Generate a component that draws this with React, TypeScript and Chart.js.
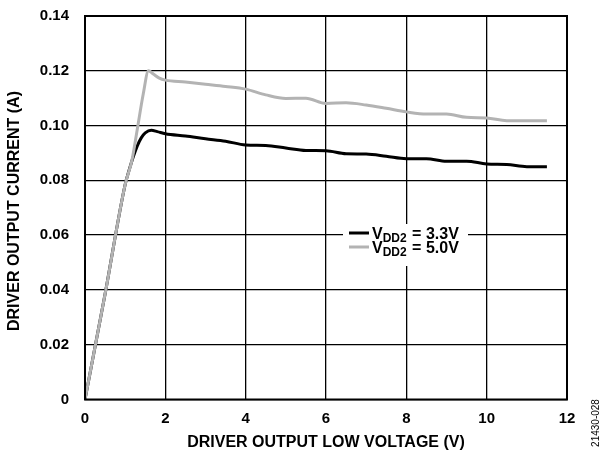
import React, { useEffect, useRef } from "react";
import { Chart, registerables } from "chart.js";

Chart.register(...registerables);

const vdd33X = [0, 0.5, 1.0, 1.1, 1.2, 1.3, 1.4, 1.5, 1.65, 1.8, 2.0, 2.5, 3.0, 3.5, 4.0, 4.5, 5.0, 5.5, 6.0, 6.5, 7.0, 7.5, 8.0, 8.5, 9.0, 9.5, 10.0, 10.5, 11.0, 11.5];
const vdd33Y = [0, 0.0385, 0.0785, 0.0838, 0.0885, 0.0925, 0.0955, 0.0973, 0.0983, 0.0978, 0.0970, 0.0962, 0.0952, 0.0943, 0.0929, 0.0927, 0.0918, 0.0909, 0.0908, 0.0897, 0.0896, 0.0888, 0.0879, 0.0879, 0.0870, 0.0870, 0.0860, 0.0858, 0.0850, 0.0850];

const vdd50X = [0, 0.5, 1.0, 1.17, 1.3, 1.45, 1.58, 1.7, 1.85, 2.0, 2.5, 3.0, 3.5, 4.0, 4.5, 5.0, 5.5, 6.0, 6.5, 7.0, 7.5, 8.0, 8.5, 9.0, 9.5, 10.0, 10.5, 11.0, 11.5];
const vdd50Y = [0, 0.0385, 0.0785, 0.0874, 0.0985, 0.1115, 0.1200, 0.1188, 0.1173, 0.1166, 0.1159, 0.1151, 0.1143, 0.1133, 0.1112, 0.1099, 0.1100, 0.1081, 0.1083, 0.1075, 0.1063, 0.1050, 0.1042, 0.1042, 0.1030, 0.1028, 0.1018, 0.1018, 0.1018];

const legendLabels = ["3.3V", "5.0V"];
const xTitle = "DRIVER OUTPUT LOW VOLTAGE (V)";
const yTitle = "DRIVER OUTPUT CURRENT (A)";
const sideNote = "21430-028";

const FONT = "'Liberation Sans', Arial, sans-serif";

const overlay = {
  id: "overlay",
  afterDatasetsDraw(chart: any) {
    const { ctx, chartArea } = chart;
    ctx.save();
    ctx.strokeStyle = "#000";
    ctx.lineWidth = 2;
    ctx.strokeRect(chartArea.left, chartArea.top, chartArea.right - chartArea.left, chartArea.bottom - chartArea.top);
    ctx.fillStyle = "#fff";
    ctx.fillRect(343, 224, 125, 42);
    const rows = [
      { color: "#000", label: legendLabels[0], y: 233 },
      { color: "#b3b3b3", label: legendLabels[1], y: 247 },
    ];
    for (const r of rows) {
      ctx.strokeStyle = r.color;
      ctx.lineWidth = 3;
      ctx.beginPath();
      ctx.moveTo(349, r.y);
      ctx.lineTo(369, r.y);
      ctx.stroke();
      ctx.fillStyle = "#000";
      ctx.textBaseline = "alphabetic";
      ctx.textAlign = "left";
      let x = 372;
      ctx.font = `bold 16px ${FONT}`;
      ctx.fillText("V", x, r.y + 5.5);
      x += ctx.measureText("V").width;
      ctx.font = `bold 12px ${FONT}`;
      ctx.fillText("DD2", x, r.y + 8.5);
      x += ctx.measureText("DD2").width + 1;
      ctx.font = `bold 16px ${FONT}`;
      ctx.fillText(" = " + r.label, x, r.y + 5.5);
    }
    ctx.restore();
  },
  afterDraw(chart: any) {
    const { ctx, chartArea } = chart;
    ctx.save();
    ctx.fillStyle = "#000";
    ctx.font = `bold 16px ${FONT}`;
    ctx.textAlign = "center";
    ctx.textBaseline = "middle";
    ctx.fillText(xTitle, (chartArea.left + chartArea.right) / 2, 443);
    ctx.translate(15, 211);
    ctx.rotate(-Math.PI / 2);
    ctx.fillText(yTitle, 0, 0);
    ctx.restore();
    ctx.save();
    ctx.fillStyle = "#000";
    ctx.font = `10px ${FONT}`;
    ctx.textAlign = "center";
    ctx.textBaseline = "middle";
    ctx.translate(596, 423);
    ctx.rotate(-Math.PI / 2);
    ctx.fillText(sideNote, 0, 0);
    ctx.restore();
  },
};

export default function App() {
  const ref = useRef<HTMLCanvasElement>(null);
  useEffect(() => {
    document.body.style.margin = "0";
    const chart = new Chart(ref.current!, {
      type: "line",
      data: {
        datasets: [
          {
            label: "VDD2 = 5.0V",
            data: vdd50X.map((x, i) => ({ x, y: vdd50Y[i] })),
            borderColor: "#b3b3b3",
            borderWidth: 3,
            pointRadius: 0,
            cubicInterpolationMode: "monotone",
          },
          {
            label: "VDD2 = 3.3V",
            data: vdd33X.map((x, i) => ({ x, y: vdd33Y[i] })),
            borderColor: "#000",
            borderWidth: 3,
            pointRadius: 0,
            cubicInterpolationMode: "monotone",
          },
        ],
      },
      options: {
        animation: false,
        responsive: false,
        maintainAspectRatio: false,
        layout: { padding: { top: 16, right: 36, left: 0, bottom: 0 } },
        plugins: { legend: { display: false }, tooltip: { enabled: false } },
        scales: {
          x: {
            type: "linear",
            min: 0,
            max: 12,
            ticks: { stepSize: 2, color: "#000", padding: 10, font: { family: FONT, weight: "bold", size: 15 } },
            grid: { color: "#000", lineWidth: 1.3, drawTicks: false },
            border: { display: false },
            afterFit: (s: any) => { s.height = 56.5; s.paddingLeft = 0; s.paddingRight = 0; },
          },
          y: {
            min: 0,
            max: 0.14,
            ticks: {
              stepSize: 0.02,
              color: "#000",
              padding: 16,
              font: { family: FONT, weight: "bold", size: 15 },
              callback: (v: any) => (v === 0 ? "0" : Number(v).toFixed(2)),
            },
            grid: { color: "#000", lineWidth: 1.3, drawTicks: false },
            border: { display: false },
            afterFit: (s: any) => { s.width = 85; s.paddingTop = 0; s.paddingBottom = 0; },
          },
        },
      },
      plugins: [overlay],
    });
    return () => chart.destroy();
  }, []);
  return (
    <div style={{ position: "absolute", left: 0, top: 0, width: 603, height: 456, background: "#fff" }}>
      <canvas ref={ref} width={603} height={456} />
    </div>
  );
}
